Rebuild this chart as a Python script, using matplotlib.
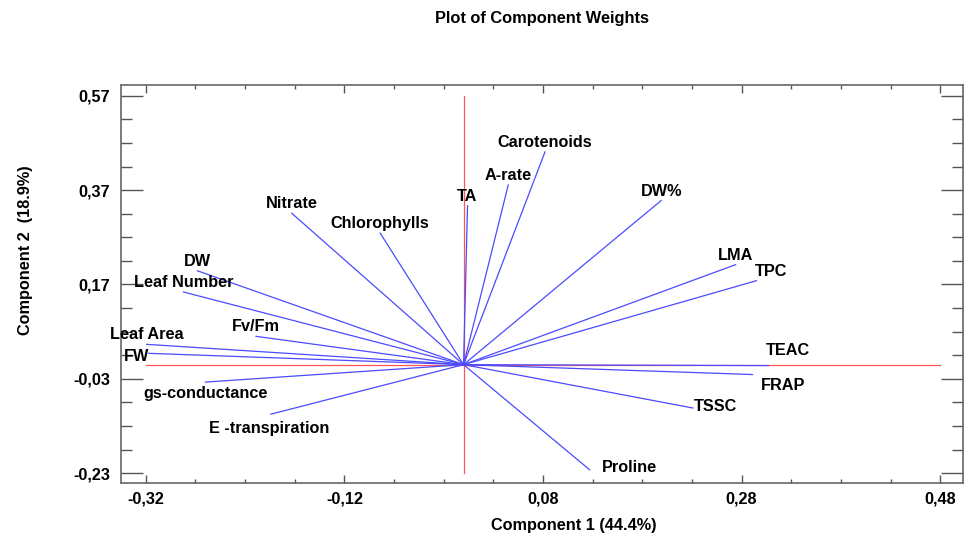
import numpy as np
import matplotlib
matplotlib.use('Agg')
import matplotlib.pyplot as plt
from matplotlib.ticker import FuncFormatter, FixedLocator

plt.rcParams['font.family'] = ['Liberation Sans', 'DejaVu Sans']

# 变量名及其在两个主成分上的权重
variables = ['Carotenoids', 'A-rate', 'TA', 'DW%', 'Nitrate', 'Chlorophylls',
             'DW', 'Leaf Number', 'LMA', 'TPC', 'Fv/Fm', 'Leaf Area', 'FW',
             'TEAC', 'FRAP', 'TSSC', 'Proline', 'gs-conductance', 'E -transpiration']
comp1 = [0.082, 0.045, 0.004, 0.199, -0.173, -0.084,
         -0.268, -0.282, 0.274, 0.295, -0.209, -0.319, -0.317,
         0.307, 0.291, 0.231, 0.127, -0.260, -0.194]
comp2 = [0.451, 0.381, 0.337, 0.348, 0.321, 0.279,
         0.199, 0.154, 0.212, 0.178, 0.060, 0.043, 0.024,
         -0.002, -0.021, -0.092, -0.223, -0.037, -0.105]

x_ticks = [-0.32, -0.12, 0.08, 0.28, 0.48]
y_ticks = [-0.23, -0.03, 0.17, 0.37, 0.57]

# 标签摆放 (dx, dy 像素, ha, va)，默认放在端点上方居中
label_pos = {
    'FW': (0, -3, 'right', 'center'),
    'TEAC': (-3, 8, 'left', 'bottom'),
    'TPC': (-2, 2, 'left', 'bottom'),
    'FRAP': (8, -3, 'left', 'top'),
    'TSSC': (1, 2, 'left', 'center'),
    'Proline': (12, 2, 'left', 'center'),
    'gs-conductance': (0, -4, 'center', 'top'),
    'E -transpiration': (-2, -7, 'center', 'top'),
}

fig = plt.figure(figsize=(9.64, 5.38), dpi=100)
ax = fig.add_axes([121 / 964, 1 - 483 / 538, 842 / 964, 398 / 538])

# 红色参考轴
ax.plot([x_ticks[0], x_ticks[-1]], [0, 0], color='#ff5555', lw=0.9, zorder=1)
ax.plot([0, 0], [y_ticks[0], y_ticks[-1]], color='#ff5555', lw=0.9, zorder=1)

# 每个变量一条从原点出发的线
for name, cx, cy in zip(variables, comp1, comp2):
    ax.plot([0, cx], [0, cy], color='#4b4bff', lw=0.9, zorder=2)
    dx, dy, ha, va = label_pos.get(name, (0, 2, 'center', 'bottom'))
    ax.annotate(name, (cx, cy), xytext=(dx, dy), textcoords='offset pixels',
                ha=ha, va=va, fontsize=11.7, fontweight='bold')

ax.set_xlim(-0.345, 0.503)
ax.set_ylim(-0.251, 0.593)

fmt = FuncFormatter(lambda v, p: f'{v:.2f}'.replace('.', ','))
ax.xaxis.set_major_locator(FixedLocator(x_ticks))
ax.yaxis.set_major_locator(FixedLocator(y_ticks))
ax.xaxis.set_minor_locator(FixedLocator(np.arange(-0.32, 0.50, 0.05)))
ax.yaxis.set_minor_locator(FixedLocator(np.arange(-0.23, 0.59, 0.05)))
ax.xaxis.set_major_formatter(fmt)
ax.yaxis.set_major_formatter(fmt)

ax.tick_params(axis='x', which='major', direction='in', length=6, width=1,
               color='#555555', top=True, labelsize=11.7, pad=6)
ax.tick_params(axis='x', which='minor', direction='in', length=3, width=1,
               color='#555555', top=True)
ax.tick_params(axis='y', which='major', direction='in', length=16, width=1,
               color='#555555', right=True, labelsize=11.7, pad=8)
ax.tick_params(axis='y', which='minor', direction='in', length=8, width=1,
               color='#555555', right=True)
for lab in ax.get_xticklabels() + ax.get_yticklabels():
    lab.set_fontweight('bold')
for sp in ax.spines.values():
    sp.set_color('#666666')
    sp.set_linewidth(1.2)

ax.set_xlabel('Component 1 (44.4%)', fontsize=11.7, fontweight='bold')
ax.set_ylabel('Component 2  (18.9%)', fontsize=11.7, fontweight='bold')
ax.xaxis.set_label_coords((574 - 121) / 842, (483 - 518) / 398)
ax.yaxis.set_label_coords((33 - 121) / 842, (483 - 250) / 398)

fig.text(0.562, 1 - 18 / 538, 'Plot of Component Weights', ha='center', va='center',
         fontsize=11.8, fontweight='bold')

fig.savefig('out.png', dpi=100)
